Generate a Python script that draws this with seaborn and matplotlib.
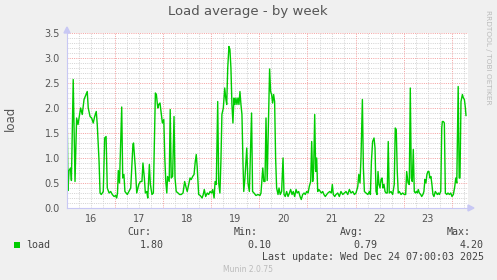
import matplotlib
matplotlib.use("Agg")
import matplotlib.pyplot as plt
import seaborn as sns
import pandas as pd
from matplotlib.patches import Rectangle, Polygon

# ---- data (hours since Dec 16 00:00, load values) ----
hours = [0.1, 0.5, 1.0, 1.8, 2.2, 3.1, 4.0, 4.8, 5.5, 6.8, 7.6, 8.5, 9.5, 10.1, 10.6, 11.5, 12.3, 13.1, 13.8, 14.6,
         15.1, 16.0, 16.5, 17.1, 18.1, 18.8, 19.5, 20.1, 21.0, 21.8, 22.6, 23.5, 24.3, 24.8, 25.2, 25.6, 26.2, 27.3, 27.8, 28.4,
         28.9, 30.1, 30.9, 31.8, 32.9, 33.2, 34.1, 34.8, 35.8, 36.6, 37.4, 37.9, 38.6, 39.1, 39.8, 40.3, 41.1, 41.6, 42.4, 43.1,
         43.8, 44.1, 44.6, 45.3, 45.8, 46.4, 46.9, 47.6, 48.3, 48.8, 49.3, 49.8, 50.2, 51.0, 51.5, 52.0, 52.7, 53.4, 53.9, 54.5,
         55.4, 56.2, 57.0, 57.9, 58.7, 59.5, 60.0, 60.7, 61.4, 62.0, 62.7, 63.4, 64.0, 64.5, 65.0, 65.7, 66.5, 67.4, 68.0, 68.5,
         69.2, 70.0, 70.7, 71.4, 72.2, 72.7, 73.4, 73.9, 74.5, 75.2, 75.7, 76.3, 76.8, 77.3, 78.0, 78.7, 79.2, 79.7, 80.2, 80.8,
         81.3, 81.8, 82.3, 82.8, 83.3, 83.8, 84.3, 84.8, 85.3, 85.8, 86.3, 86.8, 87.3, 87.8, 88.2, 88.8, 89.7, 90.3, 91.0, 92.1,
         92.6, 93.3, 94.3, 95.3, 96.3, 96.8, 97.7, 98.2, 98.8, 99.3, 99.9, 101.1, 101.6, 102.1, 102.6, 103.1, 103.6, 104.1, 104.6, 105.3,
         105.8, 106.4, 107.1, 107.8, 108.3, 108.9, 109.6, 110.3, 111.0, 111.6, 112.3, 112.9, 113.6, 114.3, 114.9, 115.6, 116.3, 116.9, 117.6, 118.3,
         118.9, 119.6, 120.3, 120.9, 121.6, 122.1, 122.6, 123.1, 123.6, 124.1, 124.6, 125.1, 125.7, 126.4, 126.9, 127.6, 128.2, 128.9, 129.6, 130.2,
         131.1, 131.9, 132.4, 132.9, 133.6, 134.2, 135.1, 135.9, 136.7, 137.6, 138.4, 139.2, 140.1, 140.9, 141.7, 142.6, 143.4, 144.2, 145.1, 145.6,
         146.2, 146.7, 147.4, 147.9, 148.4, 149.2, 150.1, 150.9, 151.4, 151.9, 152.5, 153.2, 153.7, 154.2, 154.7, 155.2, 155.7, 156.2, 156.7, 157.2,
         157.7, 158.2, 158.7, 159.2, 159.8, 160.3, 160.8, 161.7, 162.5, 163.3, 163.8, 164.3, 164.8, 165.3, 165.8, 166.7, 167.5, 168.3, 169.0, 169.5,
         170.2, 170.8, 171.3, 171.8, 172.3, 172.8, 173.3, 173.8, 174.3, 174.8, 175.3, 175.8, 176.5, 177.0, 177.6, 178.1, 178.6, 179.1, 179.6, 180.1,
         180.6, 181.1, 181.6, 182.1, 182.6, 183.1, 183.8, 184.3, 184.8, 185.3, 185.8, 186.5, 187.0, 187.3, 187.8, 188.3, 188.8, 189.5, 190.1, 190.8,
         191.5, 192.1, 192.8, 193.5, 194.0, 194.5, 195.2, 195.7, 196.1, 196.6, 197.3, 197.8, 198.3, 198.8, 199.1]
load = [1.8, 0.35, 0.75, 0.8, 0.55, 2.57, 0.53, 1.8, 1.67, 2.0, 1.87, 2.17, 2.27, 2.33, 2.0, 1.83, 1.8, 1.7, 1.83, 1.93,
        1.67, 0.93, 0.3, 0.27, 0.33, 1.4, 1.43, 0.4, 0.3, 0.33, 0.27, 0.23, 0.25, 0.2, 0.3, 0.75, 0.5, 2.02, 0.6, 0.67,
        0.33, 0.27, 0.33, 0.4, 1.27, 1.3, 0.8, 0.3, 0.47, 0.53, 0.53, 0.9, 0.6, 0.3, 0.33, 0.2, 0.87, 0.47, 0.27, 0.3,
        1.73, 2.3, 2.27, 2.0, 2.07, 2.1, 1.93, 1.7, 1.77, 1.0, 0.53, 0.3, 0.63, 0.53, 1.97, 0.6, 0.63, 1.83, 0.6, 0.33,
        0.3, 0.27, 0.27, 0.3, 0.53, 0.4, 0.33, 0.47, 0.6, 0.57, 0.63, 0.67, 0.93, 1.07, 0.8, 0.27, 0.25, 0.2, 0.27, 0.37,
        0.23, 0.3, 0.27, 0.33, 0.3, 0.37, 0.2, 0.53, 0.47, 2.13, 0.5, 0.3, 0.93, 1.87, 2.0, 2.4, 2.2, 2.07, 2.8, 3.23,
        3.17, 2.8, 2.07, 1.7, 2.2, 2.07, 2.2, 2.07, 2.2, 2.07, 2.33, 2.07, 1.87, 0.93, 0.33, 0.6, 1.2, 0.5, 0.33, 1.9,
        0.33, 0.3, 0.25, 0.27, 0.25, 0.3, 0.8, 0.53, 0.53, 1.8, 0.55, 2.78, 2.33, 2.27, 2.1, 2.27, 2.13, 1.0, 0.4, 0.27,
        0.4, 0.27, 0.33, 1.0, 0.27, 0.23, 0.33, 0.23, 0.3, 0.37, 0.27, 0.33, 0.23, 0.37, 0.3, 0.33, 0.23, 0.17, 0.27, 0.3,
        0.27, 0.33, 0.3, 0.43, 0.53, 1.33, 0.53, 0.8, 1.87, 0.73, 1.0, 0.33, 0.37, 0.33, 0.3, 0.33, 0.27, 0.23, 0.27, 0.3,
        0.33, 0.3, 0.47, 0.27, 0.23, 0.27, 0.3, 0.23, 0.33, 0.27, 0.3, 0.33, 0.27, 0.37, 0.3, 0.33, 0.27, 0.3, 0.43, 0.67,
        0.5, 1.0, 2.17, 0.8, 0.33, 0.3, 0.27, 0.33, 0.27, 0.93, 1.33, 1.4, 1.2, 0.33, 0.27, 0.73, 0.47, 0.4, 0.57, 0.6,
        0.4, 0.47, 0.33, 0.3, 0.3, 1.33, 0.3, 0.33, 0.27, 0.47, 1.6, 1.57, 0.73, 0.3, 0.33, 0.27, 0.3, 0.27, 0.27, 0.73,
        0.5, 0.47, 2.4, 0.6, 0.53, 1.17, 0.33, 0.3, 0.33, 0.3, 0.37, 0.3, 0.27, 0.23, 0.27, 0.33, 0.57, 0.5, 0.67, 0.73,
        0.73, 0.6, 0.63, 0.47, 0.27, 0.23, 0.33, 0.3, 0.27, 0.3, 0.27, 0.33, 1.6, 1.73, 1.73, 1.7, 0.3, 0.27, 0.3, 0.27,
        0.3, 0.23, 0.27, 0.43, 0.6, 0.5, 2.43, 0.6, 0.6, 2.13, 2.27, 2.2, 2.17, 2.0, 1.85]
day_labels = ["16", "17", "18", "19", "20", "21", "22", "23"]
y_ticks = [0.0, 0.5, 1.0, 1.5, 2.0, 2.5, 3.0, 3.5]
stat_names = ["Cur:", "Min:", "Avg:", "Max:"]
stat_values = ["1.80", "0.10", "0.79", "4.20"]

df = pd.DataFrame({"hours": hours, "load": load})

W, H = 497, 280
fig = plt.figure(figsize=(W / 100, H / 100), dpi=100, facecolor="#F0F0F0")
ax = fig.add_axes([67 / W, 1 - 208 / H, 401 / W, 175 / H])
ax.set_facecolor("white")
XMAX = 200.1
ax.set_xlim(0, XMAX)
ax.set_ylim(0, 3.5)

# grid
g = dict(lw=0.72, dashes=(1, 1.2), zorder=1)
for h in range(6, int(XMAX) + 1, 6):
    if h % 24:
        ax.axvline(h, color="#D4D4D4", **g)
for k in range(1, 35):
    v = k / 10
    if k % 5:
        ax.axhline(v, color="#D4D4D4", **g)
for h in range(24, int(XMAX) + 1, 24):
    ax.axvline(h, color="#F4A4A4", **g)
for v in y_ticks[1:]:
    ax.axhline(v, color="#F4A4A4", **g)

sns.lineplot(data=df, x="hours", y="load", ax=ax, color="#00CC00", lw=1.0, zorder=3)

for s in ["top", "right"]:
    ax.spines[s].set_visible(False)
for s in ["left", "bottom"]:
    ax.spines[s].set_color("#C8C8F4")
    ax.spines[s].set_linewidth(0.8)
    ax.spines[s].set_zorder(4)

txt = "#555555"
ax.set_xticks([12 + 24 * i for i in range(len(day_labels))])
ax.set_xticklabels(day_labels)
ax.set_yticks(y_ticks)
ax.set_yticklabels([f"{v:.1f}" for v in y_ticks])
ax.tick_params(axis="both", length=0, labelsize=7, labelcolor=txt)
ax.tick_params(axis="x", pad=4)
ax.tick_params(axis="y", pad=5)
ax.set_xlabel("")
ax.set_ylabel("")

# axis arrows
fig.patches.append(Polygon([[64 / W, 1 - 33 / H], [70 / W, 1 - 33 / H], [67 / W, 1 - 27 / H]],
                           closed=True, transform=fig.transFigure, color="#C8C8F4", zorder=5))
fig.patches.append(Polygon([[468 / W, 1 - 205 / H], [468 / W, 1 - 211 / H], [474 / W, 1 - 208 / H]],
                           closed=True, transform=fig.transFigure, color="#C8C8F4", zorder=5))

def fx(x):
    return x / W

def fy(y):
    return 1 - y / H

fig.text(fx(248), fy(12), "Load average - by week", ha="center", va="center", fontsize=9.5, color=txt)
fig.text(fx(10), fy(118), "load", ha="center", va="center", rotation=90, fontsize=8.5, color=txt)
fig.text(fx(488), fy(57), "RRDTOOL / TOBI OETIKER", ha="center", va="center", rotation=270,
         fontsize=5.3, color="#BBBBBB")

mono = dict(family="DejaVu Sans Mono", fontsize=7.2, color="#444444", va="center")
name_r = [151, 258, 364, 471]
val_r = [164, 271, 377, 484]
for n, r in zip(stat_names, name_r):
    fig.text(fx(r), fy(232), n, ha="right", **mono)
fig.patches.append(Rectangle((fx(14), fy(248)), 6 / W, 6 / H, transform=fig.transFigure,
                             facecolor="#00CC00", edgecolor="none"))
fig.text(fx(26), fy(245), "load", ha="left", **mono)
for v, r in zip(stat_values, val_r):
    fig.text(fx(r), fy(245), v, ha="right", **mono)
fig.text(fx(484), fy(257), "Last update: Wed Dec 24 07:00:03 2025", ha="right", **mono)
fig.text(fx(248), fy(269), "Munin 2.0.75", ha="center", va="center", fontsize=5.5, color="#BBBBBB")

fig.savefig("out.png", dpi=100, facecolor=fig.get_facecolor())
